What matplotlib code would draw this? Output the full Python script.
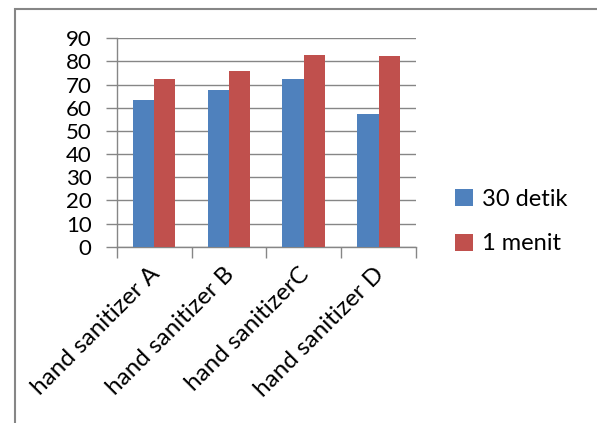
import matplotlib.pyplot as plt
import matplotlib.transforms as mtransforms
from matplotlib.patches import Rectangle
import numpy as np

plt.rcParams['font.family'] = ['Lato', 'DejaVu Sans']

categories = ["hand sanitizer A", "hand sanitizer B", "hand sanitizerC", "hand sanitizer D"]
detik_30 = [63.4, 67.6, 72.3, 57.5]
menit_1 = [72.3, 75.9, 82.7, 82.2]
y_ticks = [0, 10, 20, 30, 40, 50, 60, 70, 80, 90]

blue = '#4F81BD'
red = '#C0504D'
grey = '#868686'

fig = plt.figure(figsize=(5.97, 4.23), dpi=100)

# outer chart border (right/bottom edges cropped off in the original)
fig.patches.append(Rectangle((15 / 597, -0.1), 1.2, 1 - 9 / 423 + 0.1,
                             transform=fig.transFigure, fill=False,
                             edgecolor=grey, linewidth=1.5))

ax = fig.add_axes([0.1955, 0.4168, 0.5013, 0.4927])

x = np.arange(len(categories))
w = 1 / 3.5
ax.bar(x - w / 2, detik_30, w, color=blue, label='30 detik', zorder=3)
ax.bar(x + w / 2, menit_1, w, color=red, label='1 menit', zorder=3)

ax.set_xlim(-0.5, len(categories) - 0.5)
ax.set_ylim(0, 90)
ax.set_yticks(y_ticks)
ax.tick_params(axis='y', labelsize=16, length=8, color=grey, width=1, pad=10)
ax.grid(axis='y', color=grey, linewidth=1, zorder=0)

# category ticks at boundaries, labels at centres
ax.set_xticks(np.arange(len(categories) + 1) - 0.5)
ax.set_xticks(x, minor=True)
ax.set_xticklabels([])
ax.set_xticklabels(categories, minor=True, rotation=45, ha='right',
                   rotation_mode='anchor', fontsize=17.5)
ax.tick_params(axis='x', which='major', length=8, color=grey, width=1)
ax.tick_params(axis='x', which='minor', length=0, pad=12)
shift = mtransforms.ScaledTranslation(-5 / 100, 0, fig.dpi_scale_trans)
for lbl in ax.get_xticklabels(minor=True):
    lbl.set_transform(lbl.get_transform() + shift)

for s in ['top', 'right']:
    ax.spines[s].set_visible(False)
for s in ['left', 'bottom']:
    ax.spines[s].set_color(grey)
    ax.spines[s].set_linewidth(1)

ax.legend(loc='center left', bbox_to_anchor=(1.06, 0.12), frameon=False,
          fontsize=17, handlelength=0.75, handleheight=0.75, labelspacing=1.0,
          handletextpad=0.4)

fig.savefig('out.png', dpi=100)
